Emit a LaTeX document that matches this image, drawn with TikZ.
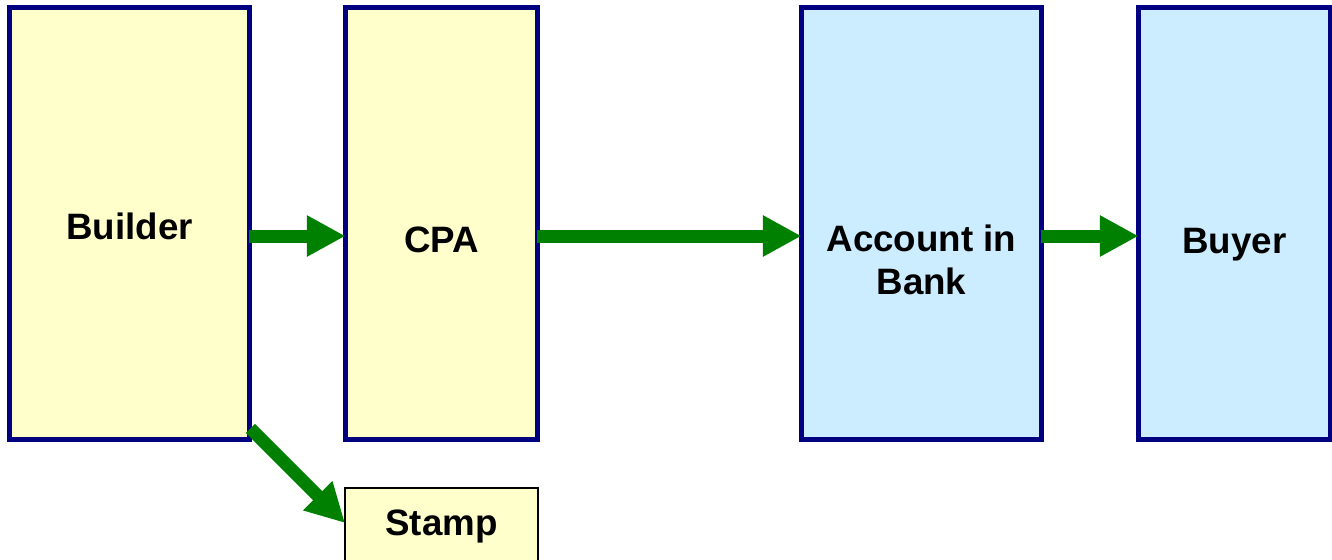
\documentclass[tikz,border=0pt]{standalone}
\usepackage{fontspec}
\setmainfont{Liberation Sans}
\usetikzlibrary{arrows.meta}
\definecolor{paleyellow}{HTML}{FFFFCC}
\definecolor{paleblue}{HTML}{CCECFF}
\definecolor{navyline}{HTML}{000080}
\definecolor{flowgreen}{HTML}{008000}
\begin{document}
\begin{tikzpicture}[x=0.02cm, y=-0.02cm,
  party/.style={rectangle, draw=navyline, line width=2.8pt, outer sep=0pt, minimum height=8.64cm},
  txt/.style={font=\fontsize{20.9}{24.4}\selectfont\bfseries, align=center},
  flow/.style={draw=flowgreen, line width=7.4pt, -{Triangle[length=22pt, width=22pt]}}]
\useasboundingbox (0,0) rectangle (1332,559);
% the four parties
\node[party, fill=paleyellow, minimum width=4.8cm, label={[txt, yshift=-0.06cm]center:Builder}] (builder) at (129.5,223.5) {};
\node[party, fill=paleyellow, minimum width=3.84cm, label={[txt, yshift=-0.32cm]center:CPA}] (cpa) at (441.5,223.5) {};
\node[party, fill=paleblue, minimum width=4.8cm, label={[txt, yshift=-0.72cm]center:Account in\\Bank}] (bank) at (921.5,223.5) {};
\node[party, fill=paleblue, minimum width=3.84cm, label={[txt, yshift=-0.42cm]center:Buyer}] (buyer) at (1234.5,223.5) {};
\node[rectangle, draw=black, line width=0.6pt, outer sep=0pt, fill=paleyellow, minimum width=3.86cm, minimum height=1.6cm,
  label={[txt, yshift=0.04cm]center:Stamp}] (stamp) at (441.5,528) {};
% money flow
\draw[flow] ([yshift=-0.25cm]builder.east) -- ([yshift=-0.25cm]cpa.west);
\draw[flow] ([yshift=-0.25cm]cpa.east) -- ([yshift=-0.25cm]bank.west);
\draw[flow] ([yshift=-0.25cm]bank.east) -- ([yshift=-0.25cm]buyer.west);
\draw[flow] ([xshift=0.02cm, yshift=0.22cm]builder.south east) -- ([yshift=0.1cm]stamp.west);
\end{tikzpicture}
\end{document}
